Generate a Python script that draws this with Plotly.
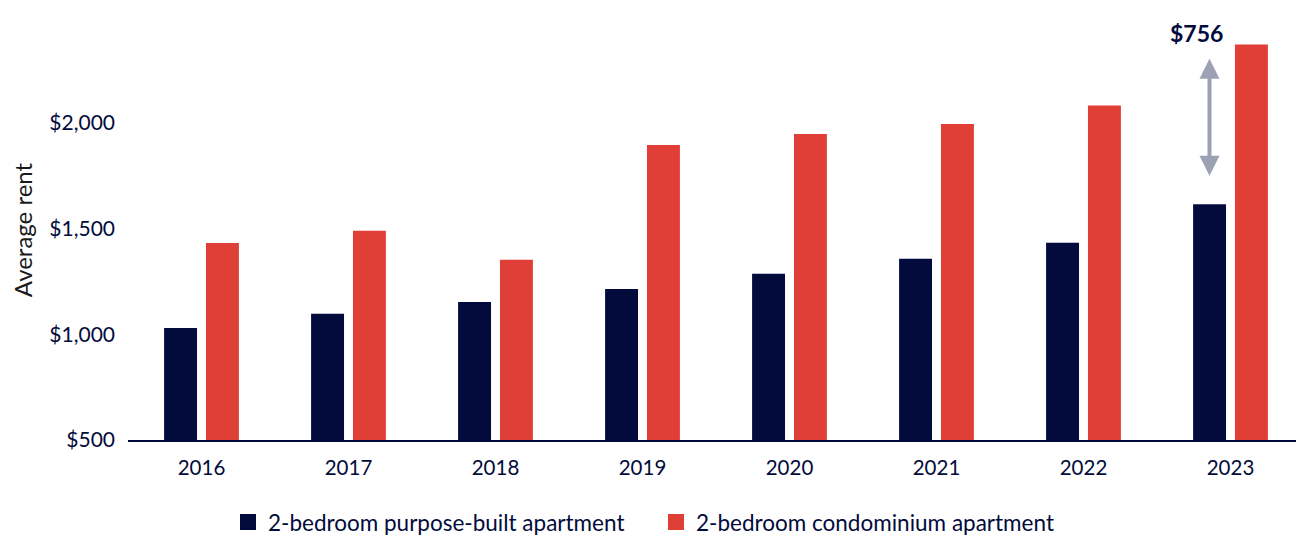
import plotly.graph_objects as go

years = ["2016", "2017", "2018", "2019", "2020", "2021", "2022", "2023"]
purpose_built = [1030, 1097, 1153, 1215, 1287, 1358, 1434, 1616]
condo = [1432, 1490, 1353, 1896, 1948, 1996, 2083, 2372]
series_names = ["2-bedroom purpose-built apartment", "2-bedroom condominium apartment"]
gap_label = "$756"
y_ticks = [500, 1000, 1500, 2000, 2500]
y_tick_text = ["$500", "$1,000", "$1,500", "$2,000", "$2,500"]

NAVY = "#020b3c"
RED = "#e03f37"
GREY = "#9ca1b4"
FONT = "Lato"

fig = go.Figure()
fig.add_trace(go.Bar(x=years, y=purpose_built, name=series_names[0],
                     marker=dict(color=NAVY, line=dict(width=0)), showlegend=False))
fig.add_trace(go.Bar(x=years, y=condo, name=series_names[1],
                     marker=dict(color=RED, line=dict(width=0)), showlegend=False))
# legend entries
for nm, col in zip(series_names, [NAVY, RED]):
    fig.add_trace(go.Scatter(x=[None], y=[None], mode="markers", name=nm,
                             marker=dict(symbol="square", size=18, color=col)))

last = len(years) - 1  # category index of 2023
# gap arrow on the 2023 purpose-built bar position
fig.add_annotation(x=last, y=purpose_built[-1] + 135, ax=0, ay=condo[-1] - 60,
                   xref="x", yref="y", axref="pixel", ayref="y", xshift=-21,
                   showarrow=True, arrowhead=2, startarrowhead=2, arrowside="end+start",
                   arrowwidth=4, arrowsize=1, arrowcolor=GREY, text="")
fig.add_annotation(x=last, y=2427, xref="x", yref="y", xshift=-34,
                   text="<b>" + gap_label + "</b>", showarrow=False,
                   font=dict(family=FONT, size=23, color=NAVY))

# page body adds an 8px offset, so the figure is 8px smaller
fig.update_layout(
    width=1296, height=529,
    margin=dict(l=120, r=0, t=12, b=96.5, autoexpand=False),
    paper_bgcolor="white", plot_bgcolor="white",
    barmode="group", bargap=0.43, bargroupgap=0.214,
    font=dict(family=FONT, size=20, color=NAVY),
    legend=dict(orientation="h", x=(240 - 128 - 12) / 1176, xanchor="left",
                y=-0.145, yanchor="top", font=dict(family=FONT, size=22.5, color=NAVY),
                entrywidth=383, entrywidthmode="pixels", itemsizing="trace"),
    xaxis=dict(type="category", showgrid=False, showline=True, linecolor=NAVY, linewidth=2,
               ticks="", tickfont=dict(family=FONT, size=20.5, color=NAVY),
               ticklabelstandoff=8, automargin=False, ticklabeloverflow="allow"),
    yaxis=dict(range=[500, 2488], tickvals=y_ticks, ticktext=y_tick_text,
               showgrid=False, showline=False, zeroline=False, ticks="",
               tickfont=dict(family=FONT, size=21, color=NAVY), ticklabelstandoff=12,
               automargin=False, ticklabeloverflow="allow",
               title=dict(text="Average rent", font=dict(family=FONT, size=24, color="#1a1a1a"),
                          standoff=34)),
)

fig.write_html("out.html")
